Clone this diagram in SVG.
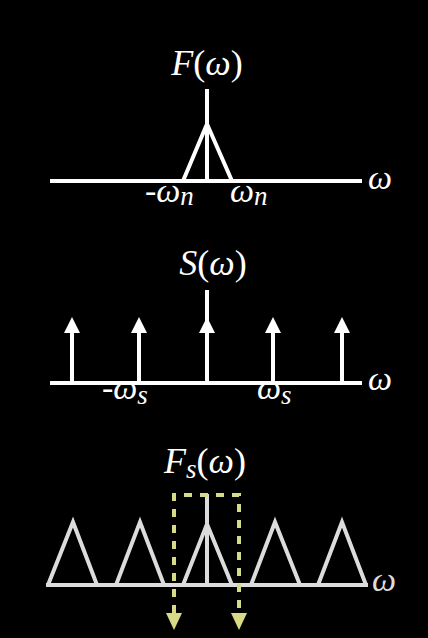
<svg xmlns="http://www.w3.org/2000/svg" width="428" height="638" viewBox="0 0 428 638">
<defs>
<style>
.bg{fill:#000}
.w{stroke:#fff;stroke-width:4;fill:none;stroke-linejoin:round}
.g{stroke:#dcdcdc;stroke-width:4;fill:none;stroke-linejoin:miter}
.y{stroke:#d8da86;stroke-width:4;fill:none;stroke-dasharray:8 8}
.ah{fill:#fff}
.yh{fill:#d8da86}
.t{font-family:"Liberation Serif","DejaVu Serif",serif;fill:#fff;font-size:36px}
.i{font-style:italic}
.l{font-family:"Liberation Serif","DejaVu Serif",serif;fill:#fff;font-size:34px;font-style:italic}
.sub{font-size:27px}
</style>
</defs>
<rect class="bg" x="0" y="0" width="428" height="638"/>
<g id="panel-F">
<line class="w" x1="50" y1="181" x2="362" y2="181"/>
<line class="w" x1="207" y1="89" x2="207" y2="181"/>
<polyline class="w" points="183,181 207,124 232,181"/>
<text class="t" x="207" y="75" text-anchor="middle"><tspan class="i">F</tspan>(<tspan class="i">ω</tspan>)</text>
<text class="l" x="368" y="189">ω</text>
<text class="l" x="145" y="202">-ω<tspan class="sub" dy="3">n</tspan></text>
<text class="l" x="230" y="202">ω<tspan class="sub" dy="3">n</tspan></text>
</g>
<g id="panel-S">
<line class="w" x1="50" y1="383" x2="362" y2="383"/>
<line class="w" x1="207" y1="290" x2="207" y2="383"/>
<line class="w" x1="72" y1="330" x2="72" y2="383"/>
<line class="w" x1="139" y1="330" x2="139" y2="383"/>
<line class="w" x1="273" y1="330" x2="273" y2="383"/>
<line class="w" x1="342" y1="330" x2="342" y2="383"/>
<polygon class="ah" points="72,317 80,333 64,333"/>
<polygon class="ah" points="139,317 147,333 131,333"/>
<polygon class="ah" points="207,317 215,333 199,333"/>
<polygon class="ah" points="273,317 281,333 265,333"/>
<polygon class="ah" points="342,317 350,333 334,333"/>
<text class="t" x="213" y="275" text-anchor="middle"><tspan class="i">S</tspan>(<tspan class="i">ω</tspan>)</text>
<text class="l" x="368" y="390">ω</text>
<text class="l" x="102" y="399">-ω<tspan class="sub" dy="5">s</tspan></text>
<text class="l" x="257" y="399">ω<tspan class="sub" dy="5">s</tspan></text>
</g>
<g id="panel-Fs">
<line class="g" x1="46" y1="585" x2="368" y2="585"/>
<line class="g" x1="207" y1="494" x2="207" y2="585"/>
<polyline class="g" points="48,585 73,522 97,585"/>
<polyline class="g" points="116,585 140,522 164,585"/>
<polyline class="g" points="183,585 207,524 232,585"/>
<polyline class="g" points="251,585 275,522 300,585"/>
<polyline class="g" points="318,585 342,522 366,585"/>
<text class="t" x="205" y="473" text-anchor="middle"><tspan class="i">F</tspan><tspan class="i sub" dy="5">s</tspan><tspan dy="-5">(</tspan><tspan class="i">ω</tspan>)</text>
<text class="l" x="372" y="591" style="fill:#dcdcdc">ω</text>
</g>
<g id="connectors">
<polyline class="y" points="174,613 174,495 239,495 239,613"/>
<polygon class="yh" points="166,613 182,613 174,630"/>
<polygon class="yh" points="231,613 247,613 239,630"/>
</g>
</svg>
